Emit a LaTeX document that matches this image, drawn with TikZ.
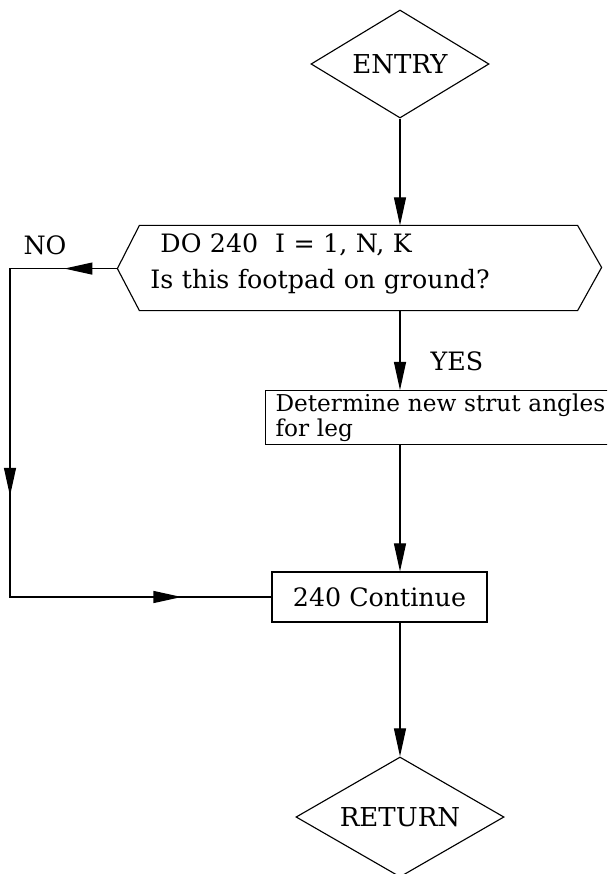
\documentclass[tikz,border=0pt]{standalone}
\usepackage{fontspec}
\setmainfont{DejaVu Serif}
\usetikzlibrary{shapes.geometric,arrows.meta,decorations.markings}

\begin{document}
\begin{tikzpicture}[x=0.025cm, y=-0.025cm, line width=0.8pt, every node/.style={font=\fontsize{18}{26}\selectfont},
	dia/.style={draw, diamond, aspect=1.7, inner sep=0pt, font=\fontsize{18.5}{26}\selectfont}, box/.style={draw, rectangle, inner sep=0pt},
	tip/.style={-{Triangle[length=7mm, width=3mm]}},
	notip/.style={postaction={decorate}, decoration={markings,
		mark=at position 0.076 with {\arrow{Triangle[length=7mm, width=3mm]}},
		mark=at position 0.48 with {\arrow{Triangle[length=7mm, width=3mm]}},
		mark=at position 0.871 with {\arrow{Triangle[length=7mm, width=3mm]}}}}]
	\clip (0,0) rectangle (607,874);
	\node[dia, minimum width=4.45cm, minimum height=2.7cm] (entry) at (400,64) {ENTRY};
	\node[inner sep=0pt, minimum width=10.925cm, minimum height=2.1cm] (loop) at (358.5,268) {};
	\node[inner sep=0pt, text width=10.4cm, align=left] (looptext) at (358.5,264) {\hspace*{0.25cm}DO 240~ I = 1, N, K\\Is this footpad on ground?};
	\draw (loop.north west) -- (loop.north east) -- ++(24,42) coordinate (loopE) -- (loop.south east) -- (loop.south west) -- ++(-22,-42) coordinate (loopW) -- cycle;
	\node[box, inner xsep=0.2cm, inner ysep=2pt, anchor=north west, minimum width=9.5cm, minimum height=1.3cm, text width=9cm, align=left, font=\fontsize{16.5}{18}\selectfont] (det) at (265,390) {Determine new strut angles\\for leg};
	\node[box, minimum width=5.375cm, minimum height=1.25cm] (cont) at (379.5,597) {240 Continue};
	\node[dia, minimum width=5.2cm, minimum height=3cm] (ret) at (400,817) {RETURN};
	\node (no) at (45,245) {NO}; \node (yes) at (457,361) {YES};
	\coordinate (side) at (10,0);
	% main line
	\draw[tip] (entry.south) -- (entry.south |- loop.north);
	\draw[tip] (entry.south |- loop.south) -- (entry.south |- det.north);
	\draw[tip] (entry.south |- det.south) -- (entry.south |- cont.north);
	\draw[tip] (entry.south |- cont.south) -- (ret.north);
	% NO branch
	\draw[notip] (loopW) -- (loopW -| side) -- (side |- cont.west) -- (cont.west);
\end{tikzpicture}
\end{document}
